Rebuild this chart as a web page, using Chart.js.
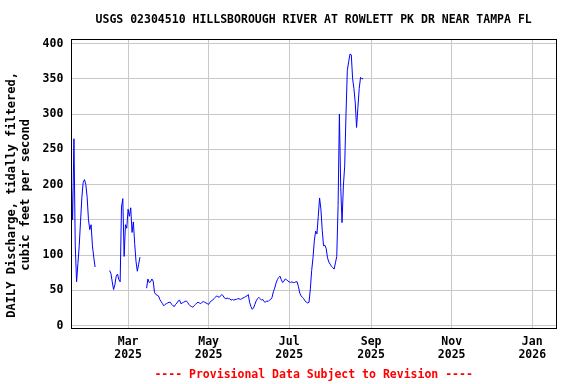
<!DOCTYPE html>
<html>
<head>
<meta charset="utf-8">
<script src="https://cdn.jsdelivr.net/npm/chart.js@4.4.1/dist/chart.umd.min.js"></script>
<style>
  html, body { margin: 0; padding: 0; background: #fff; }
  canvas { display: block; }
</style>
</head>
<body>
<canvas id="myChart" width="576" height="384"></canvas>
<script>
// daily discharge, cfs (null = no data)
const janFlow = [207, 150, 265, 113, 62, 88, 113, 148, 182, 203, 207, 200, 182, 150, 136]; // from Jan 17
const febFlow = [143, 113, 97, 83, null, null, null, null, null, null, null, null, null, null,
                 78, 74, 62, 51, 58, 70, 73, 65, 62, 168, 180, 98, 143, 138];
const marFlow = [165, 155, 167, 132, 147, 116, 91, 77, 87, 97, null, null, null, null,
                 53, 66, 61, 62, 66, 63, 47, 44, 43, 42, 37, 34, 31, 28, 30, 31, 32];
const aprFlow = [33, 33, 30, 28, 27, 30, 32, 35, 36, 31, 32, 33, 34, 35, 33, 30, 28, 27, 26, 28,
                 30, 32, 33, 32, 31, 33, 34, 33, 32, 31];
const mayFlow = [30, 33, 35, 36, 38, 40, 42, 41, 40, 42, 44, 42, 39, 38, 39, 38, 38, 36, 37, 36,
                 37, 37, 38, 38, 37, 38, 39, 40, 41, 42, 44];
const junFlow = [33, 27, 23, 25, 30, 35, 38, 40, 38, 36, 37, 34, 33, 35, 34, 36, 37, 40, 48, 53,
                 60, 65, 68, 70, 65, 61, 63, 66, 65, 63];
const julFlow = [62, 61, 62, 61, 61, 62, 62, 55, 46, 42, 40, 38, 35, 33, 32, 33, 52, 78, 96, 120,
                 134, 130, 155, 181, 165, 135, 113, 114, 109, 96, 90];
const augFlow = [87, 84, 82, 80, 89, 98, 170, 300, 196, 146, 198, 226, 300, 362, 374, 385, 384,
                 350, 336, 316, 281, 309, 336, 352, 350, 350];

const seriesStarts = ['2025-01-17', '2025-02-01', '2025-03-01', '2025-04-01',
                      '2025-05-01', '2025-06-01', '2025-07-01', '2025-08-01'];
const seriesFlows = [janFlow, febFlow, marFlow, aprFlow, mayFlow, junFlow, julFlow, augFlow];

const tickDates = ['2025-03-01', '2025-05-01', '2025-07-01', '2025-09-01', '2025-11-01', '2026-01-01'];
const tickLabels = [['Mar', '2025'], ['May', '2025'], ['Jul', '2025'], ['Sep', '2025'], ['Nov', '2025'], ['Jan', '2026']];
const yTicks = [0, 50, 100, 150, 200, 250, 300, 350, 400];

const xStart = '2025-01-17';
const xEnd = '2026-01-19';

// days since Jan 1 2025
function dayNum(s) {
    const p = s.split('-');
    return (Date.UTC(+p[0], +p[1] - 1, +p[2]) - Date.UTC(2025, 0, 1)) / 86400000;
}

let points = [];
for (let i = 0; i < seriesFlows.length; i++) {
    const d0 = dayNum(seriesStarts[i]);
    seriesFlows[i].forEach((v, j) => points.push({ x: d0 + j, y: v }));
}
const tickDays = tickDates.map(dayNum);

Chart.defaults.font.family = "'DejaVu Sans Mono', monospace";
Chart.defaults.font.weight = 'bold';
Chart.defaults.color = '#000';

// black box round the plot
const frame = {
    id: 'frame',
    afterDraw(chart) {
        const a = chart.chartArea;
        const c = chart.ctx;
        c.save();
        c.strokeStyle = '#000';
        c.lineWidth = 1;
        c.strokeRect(Math.round(a.left) + 0.5, Math.round(a.top) + 0.5,
                     Math.round(a.right - a.left), Math.round(a.bottom - a.top));
        c.restore();
    }
};

const ctx = document.getElementById('myChart').getContext('2d');
const myChart = new Chart(ctx, {
    type: 'line',
    data: {
        datasets: [{
            data: points,
            borderColor: '#0000ff',
            borderWidth: 1,
            pointRadius: 0,
            tension: 0,
            spanGaps: false
        }]
    },
    options: {
        responsive: false,
        animation: false,
        layout: { padding: { left: 0, right: 20, top: 0, bottom: 0 } },
        plugins: {
            legend: { display: false },
            tooltip: { enabled: false },
            title: {
                display: true,
                text: 'USGS 02304510 HILLSBOROUGH RIVER AT ROWLETT PK DR NEAR TAMPA FL',
                fullSize: false,
                color: '#000',
                font: { size: 11.5, weight: 'bold', lineHeight: 1.2 },
                padding: { top: 13, bottom: 12.5 }
            },
            subtitle: {
                display: true,
                position: 'bottom',
                text: '---- Provisional Data Subject to Revision ----',
                fullSize: false,
                color: '#ff0000',
                font: { size: 11.5, weight: 'bold', lineHeight: 1.2 },
                padding: { top: 7, bottom: 2 }
            }
        },
        scales: {
            x: {
                type: 'linear',
                min: dayNum(xStart),
                max: dayNum(xEnd),
                afterBuildTicks: (s) => { s.ticks = tickDays.map(v => ({ value: v })); },
                afterFit: (s) => { s.height = 32.5; },
                grid: { color: '#c8c8c8', drawTicks: false },
                border: { display: false },
                ticks: {
                    padding: 6,
                    maxRotation: 0,
                    autoSkip: false,
                    font: { size: 11.5, weight: 'bold', lineHeight: 1.2 },
                    callback: (v) => {
                        const i = tickDays.indexOf(v);
                        return i >= 0 ? tickLabels[i] : '';
                    }
                }
            },
            y: {
                min: -4.5,
                max: 406,
                afterBuildTicks: (s) => { s.ticks = yTicks.map(v => ({ value: v })); },
                afterFit: (s) => { s.width = 71.3; },
                grid: { color: '#c8c8c8', drawTicks: false },
                border: { display: false },
                ticks: { padding: 8, font: { size: 11.5, weight: 'bold' } },
                title: {
                    display: true,
                    text: ['DAILY Discharge, tidally filtered,   ', 'cubic feet per second   '],
                    font: { size: 12, weight: 'bold', lineHeight: 1.15 },
                    padding: { top: 5, bottom: 0 }
                }
            }
        }
    },
    plugins: [frame]
});
</script>
</body>
</html>
